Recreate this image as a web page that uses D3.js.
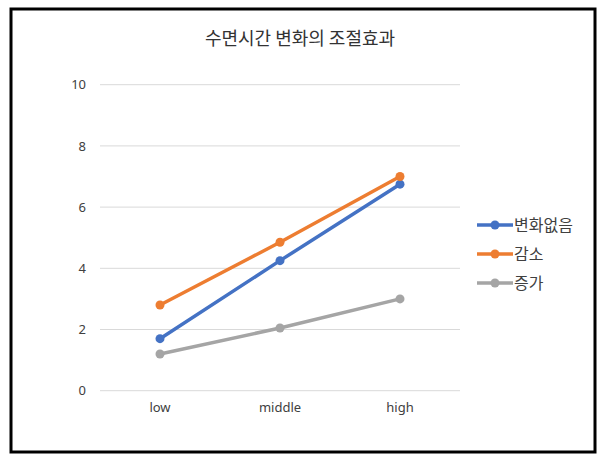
<!DOCTYPE html>
<html>
<head>
<meta charset="utf-8">
<script src="https://cdn.jsdelivr.net/npm/d3@7"></script>
<style>
  body { margin: 0; background: #fff; }
  text { font-family: "Noto Sans CJK KR", "Noto Sans", sans-serif; }
</style>
</head>
<body>
<script>
var categories = ['low', 'middle', 'high'];
var seriesNames = ['변화없음', '감소', '증가'];
var noChange = [1.7, 4.25, 6.75];
var decrease = [2.8, 4.85, 7.0];
var increase = [1.2, 2.05, 3.0];
var yTicks = [0, 2, 4, 6, 8, 10];
var colors = ['#4472c4', '#ed7d31', '#a5a5a5'];

var series = [noChange, decrease, increase].map(function(vals, i) {
  return {
    name: seriesNames[i],
    color: colors[i],
    values: vals.map(function(v, j) { return { cat: categories[j], v: v }; })
  };
});

var w = 605, h = 462;

var svg = d3.select('body').append('svg')
  .attr('width', w)
  .attr('height', h);

// chart frame
svg.append('rect')
  .attr('x', 11)
  .attr('y', 9)
  .attr('width', 584)
  .attr('height', 443)
  .attr('fill', '#fff')
  .attr('stroke', '#000')
  .attr('stroke-width', 3);

svg.append('text')
  .attr('x', 300)
  .attr('y', 45)
  .attr('text-anchor', 'middle')
  .attr('font-size', 18)
  .attr('fill', '#333')
  .text('수면시간 변화의 조절효과');

var x = d3.scaleBand()
  .domain(categories)
  .range([100, 460]);

var y = d3.scaleLinear()
  .domain([0, 10])
  .range([390.7, 84.7]);

// gridlines
svg.append('g').selectAll('line')
  .data(yTicks)
  .enter()
  .append('line')
    .attr('x1', 100)
    .attr('x2', 460)
    .attr('y1', function(d) { return y(d); })
    .attr('y2', function(d) { return y(d); })
    .attr('stroke', '#d9d9d9')
    .attr('stroke-width', 1);

var yAxis = svg.append('g')
  .attr('transform', 'translate(86,0)')
  .call(d3.axisLeft(y).tickValues(yTicks).tickSize(0).tickPadding(0));
yAxis.select('.domain').remove();
yAxis.selectAll('text')
  .attr('font-size', 13)
  .attr('fill', '#404040')
  .style('font-family', '"Noto Sans", sans-serif');

var xAxis = svg.append('g')
  .attr('transform', 'translate(0,' + 403 + ')')
  .call(d3.axisBottom(x).tickSize(0).tickPadding(0));
xAxis.select('.domain').remove();
xAxis.selectAll('text')
  .attr('font-size', 13)
  .attr('fill', '#404040')
  .style('font-family', '"Noto Sans", sans-serif');

var cx = function(d) { return x(d.cat) + x.bandwidth() / 2; };
var line = d3.line()
  .x(cx)
  .y(function(d) { return y(d.v); });

var g = svg.append('g').selectAll('.series')
  .data(series)
  .enter()
  .append('g');

g.append('path')
  .attr('d', function(d) { return line(d.values); })
  .attr('fill', 'none')
  .attr('stroke', function(d) { return d.color; })
  .attr('stroke-width', 3.5)
  .attr('stroke-linejoin', 'round');

g.selectAll('circle')
  .data(function(d) { return d.values.map(function(p) { return { cat: p.cat, v: p.v, color: d.color }; }); })
  .enter()
  .append('circle')
    .attr('cx', cx)
    .attr('cy', function(d) { return y(d.v); })
    .attr('r', 4.5)
    .attr('fill', function(d) { return d.color; });

// legend
var legend = svg.append('g').selectAll('.legend')
  .data(series)
  .enter()
  .append('g')
    .attr('transform', function(d, i) { return 'translate(477,' + (225 + i * 29) + ')'; });

legend.append('line')
  .attr('x1', 0)
  .attr('x2', 36)
  .attr('stroke', function(d) { return d.color; })
  .attr('stroke-width', 3.5);

legend.append('circle')
  .attr('cx', 18)
  .attr('r', 4.5)
  .attr('fill', function(d) { return d.color; });

legend.append('text')
  .attr('x', 37)
  .attr('y', 6)
  .attr('font-size', 16)
  .attr('fill', '#404040')
  .text(function(d) { return d.name; });
</script>
</body>
</html>
